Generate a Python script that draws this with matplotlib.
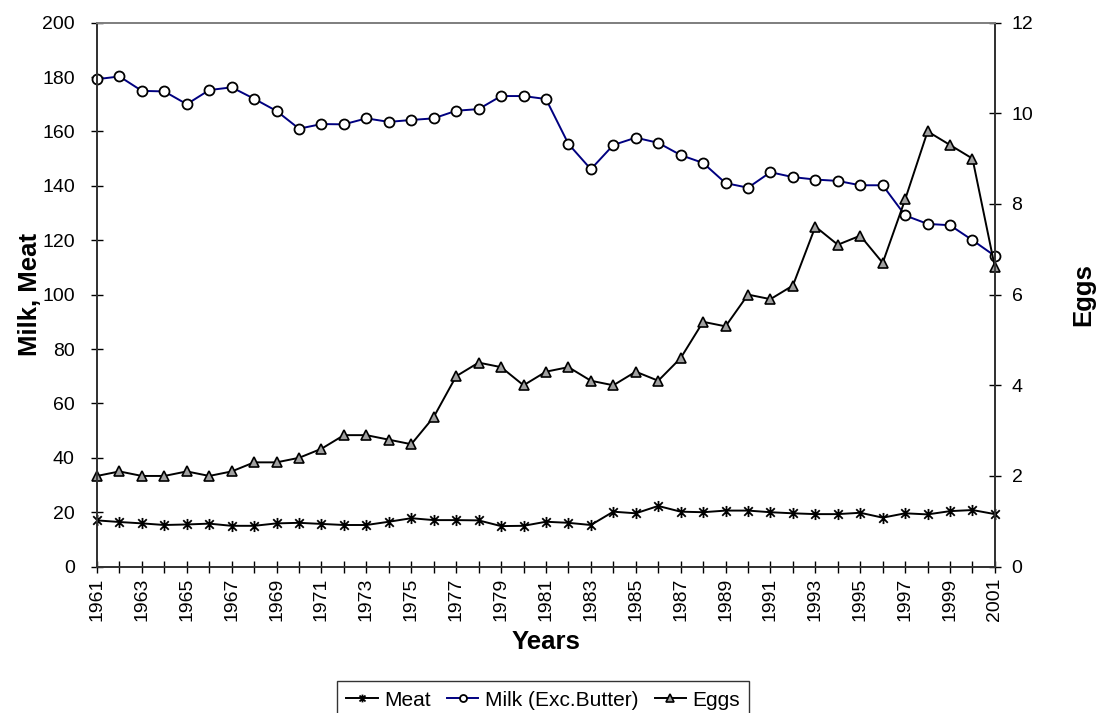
import matplotlib
matplotlib.use("Agg")
import matplotlib.pyplot as plt
from matplotlib.path import Path

plt.rcParams['font.family'] = ['Liberation Sans', 'DejaVu Sans']

years = list(range(1961, 2002))

meat = [17.0, 16.4, 15.9, 15.3, 15.5, 15.8, 15.0, 15.0, 15.9, 16.1,
        15.7, 15.3, 15.3, 16.5, 17.8, 17.1, 17.1, 17.0, 14.9, 15.0,
        16.5, 16.1, 15.3, 20.2, 19.6, 22.3, 20.2, 20.0, 20.6, 20.6,
        20.0, 19.6, 19.3, 19.3, 19.8, 18.0, 19.6, 19.2, 20.4, 20.8,
        19.3]

milk = [179.2, 180.2, 174.9, 174.7, 170.0, 175.2, 176.2, 172.0, 167.5, 161.0,
        162.7, 162.6, 164.8, 163.5, 164.2, 164.8, 167.6, 168.2, 173.0, 173.0,
        171.9, 155.4, 146.1, 155.0, 157.7, 155.8, 151.3, 148.4, 141.0, 139.3,
        145.0, 143.2, 142.3, 141.8, 140.2, 140.2, 129.1, 126.0, 125.5, 120.0,
        114.2]

eggs = [2.0, 2.1, 2.0, 2.0, 2.1, 2.0, 2.1, 2.3, 2.3, 2.4,
        2.6, 2.9, 2.9, 2.8, 2.7, 3.3, 4.2, 4.5, 4.4, 4.0,
        4.3, 4.4, 4.1, 4.0, 4.3, 4.1, 4.6, 5.4, 5.3, 6.0,
        5.9, 6.2, 7.5, 7.1, 7.3, 6.7, 8.1, 9.6, 9.3, 9.0,
        6.6]

left_ticks = list(range(0, 201, 20))
right_ticks = list(range(0, 13, 2))
year_labels = [str(y) if (y - 1961) % 2 == 0 else "" for y in years]

# asterisk marker: an X crossed by a vertical bar
star = Path([(-1, -1), (1, 1), (-1, 1), (1, -1), (0, -1.3), (0, 1.3)],
            [Path.MOVETO, Path.LINETO, Path.MOVETO, Path.LINETO,
             Path.MOVETO, Path.LINETO])

fig = plt.figure(figsize=(10.96, 7.13), dpi=100)
ax = fig.add_axes([0.0885, 0.2053, 0.8193, 0.763])
ax2 = ax.twinx()

l_meat, = ax.plot(years, meat, color='black', lw=1.4, marker=star,
                  markersize=8, markeredgewidth=1.3, markerfacecolor='none',
                  markeredgecolor='black', label='Meat', clip_on=False)
l_milk, = ax.plot(years, milk, color='#000080', lw=1.4, marker='o',
                  markersize=7.2, markerfacecolor='white',
                  markeredgecolor='black', markeredgewidth=1.3,
                  label='Milk (Exc.Butter)', clip_on=False)
l_eggs, = ax2.plot(years, eggs, color='black', lw=1.4, marker='^',
                   markersize=7.8, markerfacecolor='#a0a0a0',
                   markeredgecolor='black', markeredgewidth=1.2,
                   label='Eggs', clip_on=False)

ax.set_xlim(1961, 2001)
ax.set_ylim(0, 200)
ax2.set_ylim(0, 12)
ax.set_yticks(left_ticks)
ax2.set_yticks(right_ticks)
ax.set_xticks(years)
ax.set_xticklabels(year_labels, rotation=90)

for a in (ax, ax2):
    a.tick_params(direction='inout', length=8, width=1, labelsize=14,
                  colors='black', pad=4)
    for side in ('left', 'right', 'bottom'):
        a.spines[side].set_color('#333333')
        a.spines[side].set_linewidth(1.3)
    a.spines['top'].set_color('#808080')
    a.spines['top'].set_linewidth(1.3)
ax.tick_params(axis='y', pad=12)
ax2.tick_params(axis='y', pad=8)

ax.set_xlabel('Years', fontsize=18.5, fontweight='bold', labelpad=6)
ax.set_ylabel('Milk, Meat', fontsize=18.5, fontweight='bold', labelpad=0)
ax2.set_ylabel('Eggs', fontsize=18.5, fontweight='bold', labelpad=27)

leg = fig.legend(handles=[l_meat, l_milk, l_eggs], loc='center',
                 ncol=3, frameon=True, fancybox=False, fontsize=15,
                 handlelength=1.5, handletextpad=0.3, columnspacing=0.8,
                 borderpad=0.45, markerscale=0.7)
leg.get_frame().set_edgecolor('black')
leg.get_frame().set_linewidth(1.0)
# the legend box sits at the foot of the figure and runs off its edge
leg.set_bbox_to_anchor((0.4955, 1 - 700 / 713), transform=fig.transFigure)

fig.savefig('out.png', dpi=100)
